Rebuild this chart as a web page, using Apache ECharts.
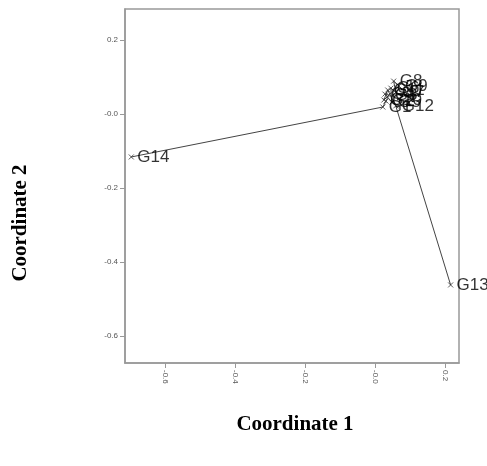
<!DOCTYPE html>
<html>
<head>
<meta charset="utf-8">
<script src="https://cdn.jsdelivr.net/npm/echarts@6/dist/echarts.min.js"></script>
<style>html,body{margin:0;padding:0;background:#fff}#c{width:487px;height:466px}</style>
</head>
<body>
<div id="c"></div>
<script>
// Data
var names = ['G14','G1','G2','G3','G4','G5','G6','G7','G8','G9','G10','G11','G12','G13'];
var coord1 = [-0.698, 0.022, 0.031, 0.039, 0.028, 0.048, 0.045, 0.059, 0.053, 0.068, 0.025, 0.036, 0.059, 0.216];
var coord2 = [-0.116, 0.019, 0.035, 0.051, 0.054, 0.032, 0.070, 0.059, 0.089, 0.076, 0.038, 0.065, 0.022, -0.462];
var xTicks = [-0.6, -0.4, -0.2, 0.0, 0.2];
var yTicks = [-0.6, -0.4, -0.2, 0.0, 0.2];

function fmt(v){ return Math.abs(v) < 1e-9 ? '-0.0' : v.toFixed(1); }

var pts = names.map(function(n,i){ return {name:n, value:[coord1[i], coord2[i]]}; });

var chart = echarts.init(document.getElementById('c'), null, {renderer:'canvas'});
chart.setOption({
  animation:false,
  backgroundColor:'#fff',
  grid:{left:125, top:9, right:28, bottom:103, show:true, borderColor:'#999', borderWidth:1.5, backgroundColor:'transparent'},
  xAxis:{type:'value', min:-0.716, max:0.24,
    splitLine:{show:false},
    axisLine:{show:true, onZero:false, lineStyle:{color:'#999', width:1.5}},
    axisTick:{show:true, length:5, lineStyle:{color:'#999'}, customValues:xTicks},
    axisLabel:{customValues:xTicks, formatter:fmt, rotate:-90, fontSize:8, color:'#555', fontFamily:'Liberation Sans', margin:7}
  },
  yAxis:{type:'value', min:-0.673, max:0.284,
    splitLine:{show:false},
    axisLine:{show:true, onZero:false, lineStyle:{color:'#999', width:1.5}},
    axisTick:{show:true, length:5, lineStyle:{color:'#999'}, customValues:yTicks},
    axisLabel:{customValues:yTicks, formatter:fmt, fontSize:8, color:'#555', fontFamily:'Liberation Sans', margin:7}
  },
  graphic:[
    {type:'text', x:295, y:425, style:{text:'Coordinate 1', font:'bold 21px "Liberation Serif"', fill:'#000', textAlign:'center', textVerticalAlign:'middle'}},
    {type:'text', x:21, y:223, rotation:Math.PI/2, style:{text:'Coordinate 2', font:'bold 21px "Liberation Serif"', fill:'#000', textAlign:'center', textVerticalAlign:'middle'}}
  ],
  series:[
    {type:'line', data:pts.map(function(p){return p.value;}), showSymbol:false, symbol:'none',
     lineStyle:{color:'#444', width:1}, silent:true, z:1},
    {type:'scatter', data:pts, symbol:'path://M0,0L10,10M10,0L0,10', symbolSize:5,
     itemStyle:{color:'none', borderColor:'#333', borderWidth:1},
     label:{show:true, position:'right', distance:1, formatter:'{b}', fontSize:17, color:'#000', fontFamily:'Liberation Sans'}, z:2}
  ]
});
</script>
</body>
</html>
